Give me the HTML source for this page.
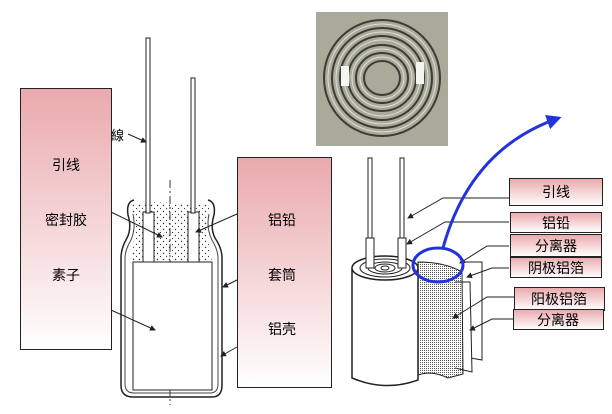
<!DOCTYPE html>
<html><head><meta charset="utf-8"><style>
body{margin:0;background:#fff;}
svg{display:block;font-family:"Liberation Sans","Noto Sans CJK SC",sans-serif;}
</style></head><body>
<svg width="612" height="414" viewBox="0 0 612 414" xmlns="http://www.w3.org/2000/svg">
<defs>
<linearGradient id="g" x1="0" y1="0" x2="0" y2="1"><stop offset="0" stop-color="#eaa9ad"/><stop offset="1" stop-color="#fff"/></linearGradient>
<pattern id="dots" width="6" height="6" patternUnits="userSpaceOnUse"><circle cx="1.5" cy="1.5" r="0.7" fill="#333"/><circle cx="4.5" cy="4.5" r="0.6" fill="#333"/></pattern>
<pattern id="fine" width="2" height="2" patternUnits="userSpaceOnUse"><rect width="1" height="1" fill="#555"/></pattern>
<marker id="ar" markerWidth="6" markerHeight="6" refX="5" refY="3" orient="auto"><path d="M0,0L6,3L0,6z" fill="#222"/></marker>
<marker id="bl" markerWidth="5" markerHeight="5" refX="3" refY="2.5" orient="auto"><path d="M0,0L5,2.5L0,5z" fill="#2233dd"/></marker>
</defs>
<rect x="20.5" y="88.5" width="91" height="261" fill="url(#g)" stroke="#222"/>
<text x="66" y="170" font-size="14" text-anchor="middle">引线</text>
<text x="66" y="225" font-size="14" text-anchor="middle">密封胶</text>
<text x="66" y="280" font-size="14" text-anchor="middle">素子</text>
<line x1="170" y1="180" x2="170" y2="405" stroke="#333" stroke-dasharray="8,3,2,3"/>
<path d="M121,258 L121,385 Q121,397 133,397 L212,397 Q222,397 222,385 L222,258 Q222,248 215,238 Q210,228 214,215 Q216,202 208,200 M121,258 Q121,248 127,238 Q132,228 128,215 Q126,202 134,200" fill="none" stroke="#222" stroke-width="1.5"/>
<path d="M125,258 L125,384 Q125,393 134,393 L210,393 Q218,393 218,384 L218,258 Q218,250 212,240 Q206,228 209,214 M125,258 Q125,250 131,240 Q136,228 133,214" fill="none" stroke="#444" stroke-width="1"/>
<path d="M130,205 Q140,200 210,205 Q204,225 212,262 L131,262 Q138,225 130,205z" fill="url(#dots)"/>
<rect x="133" y="262" width="79" height="128" fill="#fff" stroke="#222"/>
<rect x="143" y="212" width="11" height="50" fill="#fff" stroke="#222"/>
<rect x="188" y="212" width="11" height="50" fill="#fff" stroke="#222"/>
<rect x="146" y="38" width="4" height="175" fill="#fff" stroke="#222"/>
<rect x="191" y="78" width="4" height="135" fill="#fff" stroke="#222"/>
<text x="111" y="140" font-size="13">線</text>
<line x1="128" y1="134" x2="146" y2="142" stroke="#222" marker-end="url(#ar)"/>
<line x1="111" y1="212" x2="162" y2="237" stroke="#222" marker-end="url(#ar)"/>
<line x1="111" y1="310" x2="155" y2="330" stroke="#222" marker-end="url(#ar)"/>
<line x1="237" y1="214" x2="196" y2="232" stroke="#222" marker-end="url(#ar)"/>
<line x1="237" y1="280" x2="223" y2="287" stroke="#222" marker-end="url(#ar)"/>
<line x1="237" y1="347" x2="221" y2="356" stroke="#222" marker-end="url(#ar)"/>
<rect x="237.5" y="157.5" width="94" height="230" fill="url(#g)" stroke="#222"/>
<text x="282" y="225" font-size="14" text-anchor="middle">铝铅</text>
<text x="282" y="280" font-size="14" text-anchor="middle">套筒</text>
<text x="282" y="334" font-size="14" text-anchor="middle">铝壳</text>
<rect x="316" y="12" width="132" height="134" fill="#a9aa9a"/>
<g fill="none" stroke="#3b3b37" stroke-width="2">
<ellipse cx="382" cy="78" rx="58" ry="58"/><ellipse cx="382" cy="78" rx="50" ry="50"/><ellipse cx="382" cy="78" rx="42" ry="42"/><ellipse cx="382" cy="78" rx="34" ry="33"/><ellipse cx="382" cy="78" rx="26" ry="25"/><ellipse cx="382" cy="78" rx="18" ry="17"/>
</g>
<g fill="none" stroke="#e0e0d8" stroke-width="1"><ellipse cx="382" cy="78" rx="54" ry="54"/><ellipse cx="382" cy="78" rx="46" ry="46"/><ellipse cx="382" cy="78" rx="38" ry="38"/><ellipse cx="382" cy="78" rx="30" ry="29"/><ellipse cx="382" cy="78" rx="22" ry="21"/></g>
<rect x="341" y="66" width="8" height="20" fill="#f4f4f0"/><rect x="416" y="62" width="8" height="22" fill="#f4f4f0"/>
<path d="M352,268 L352,378 Q385,392 418,380 L418,268" fill="#fff" stroke="#222" stroke-width="1.5"/>
<ellipse cx="385" cy="268" rx="33" ry="12" fill="#fff" stroke="#222" stroke-width="1.5"/>
<g fill="none" stroke="#222"><ellipse cx="385" cy="268" rx="25" ry="9"/><ellipse cx="385" cy="268" rx="17" ry="6"/><ellipse cx="385" cy="268" rx="10" ry="4"/><ellipse cx="385" cy="268" rx="4" ry="2"/></g>
<path d="M462,262 L482,262 L482,360 L465,357" fill="#fff" stroke="#222"/>
<path d="M455,282 L470,282 L472,372 L455,368" fill="#fff" stroke="#222"/>
<path d="M418,262 Q445,262 462,272 L463,374 L448,378 Q432,370 418,375z" fill="url(#fine)" stroke="#222"/>
<rect x="368" y="158" width="4" height="90" fill="#fff" stroke="#222"/><rect x="400" y="158" width="4" height="90" fill="#fff" stroke="#222"/>
<rect x="366" y="238" width="8" height="30" fill="#fff" stroke="#222"/><rect x="398" y="238" width="8" height="30" fill="#fff" stroke="#222"/>
<g stroke="#222" fill="none">
<path d="M509,198 L443,198 L408,218" marker-end="url(#ar)"/>
<path d="M509,222 L445,222 L407,244" marker-end="url(#ar)"/>
<path d="M509,246 L487,246 L460,263" marker-end="url(#ar)"/>
<path d="M509,268 L492,268 L467,277" marker-end="url(#ar)"/>
<path d="M514,297 L487,297 L453,318" marker-end="url(#ar)"/>
<path d="M513,319 L492,319 L470,330" marker-end="url(#ar)"/>
</g>
<ellipse cx="438" cy="265" rx="25" ry="17" fill="none" stroke="#2233dd" stroke-width="3"/>
<path d="M443,248 Q470,150 556,119" fill="none" stroke="#2233dd" stroke-width="3" marker-end="url(#bl)"/>
<g stroke="#222" fill="url(#g)">
<rect x="509.5" y="178.5" width="93" height="27"/>
<rect x="510.5" y="212.5" width="91" height="20"/>
<rect x="510.5" y="234.5" width="91" height="22"/>
<rect x="510.5" y="257.5" width="91" height="20"/>
<rect x="514.5" y="287.5" width="90" height="23"/>
<rect x="513.5" y="309.5" width="90" height="20"/>
</g>
<g font-size="14" text-anchor="middle">
<text x="556" y="197">引线</text>
<text x="556" y="228">铝铅</text>
<text x="556" y="251">分离器</text>
<text x="556" y="273">阴极铝箔</text>
<text x="559" y="304">阳极铝箔</text>
<text x="558" y="325">分离器</text>
</g>
</svg>
</body></html>
